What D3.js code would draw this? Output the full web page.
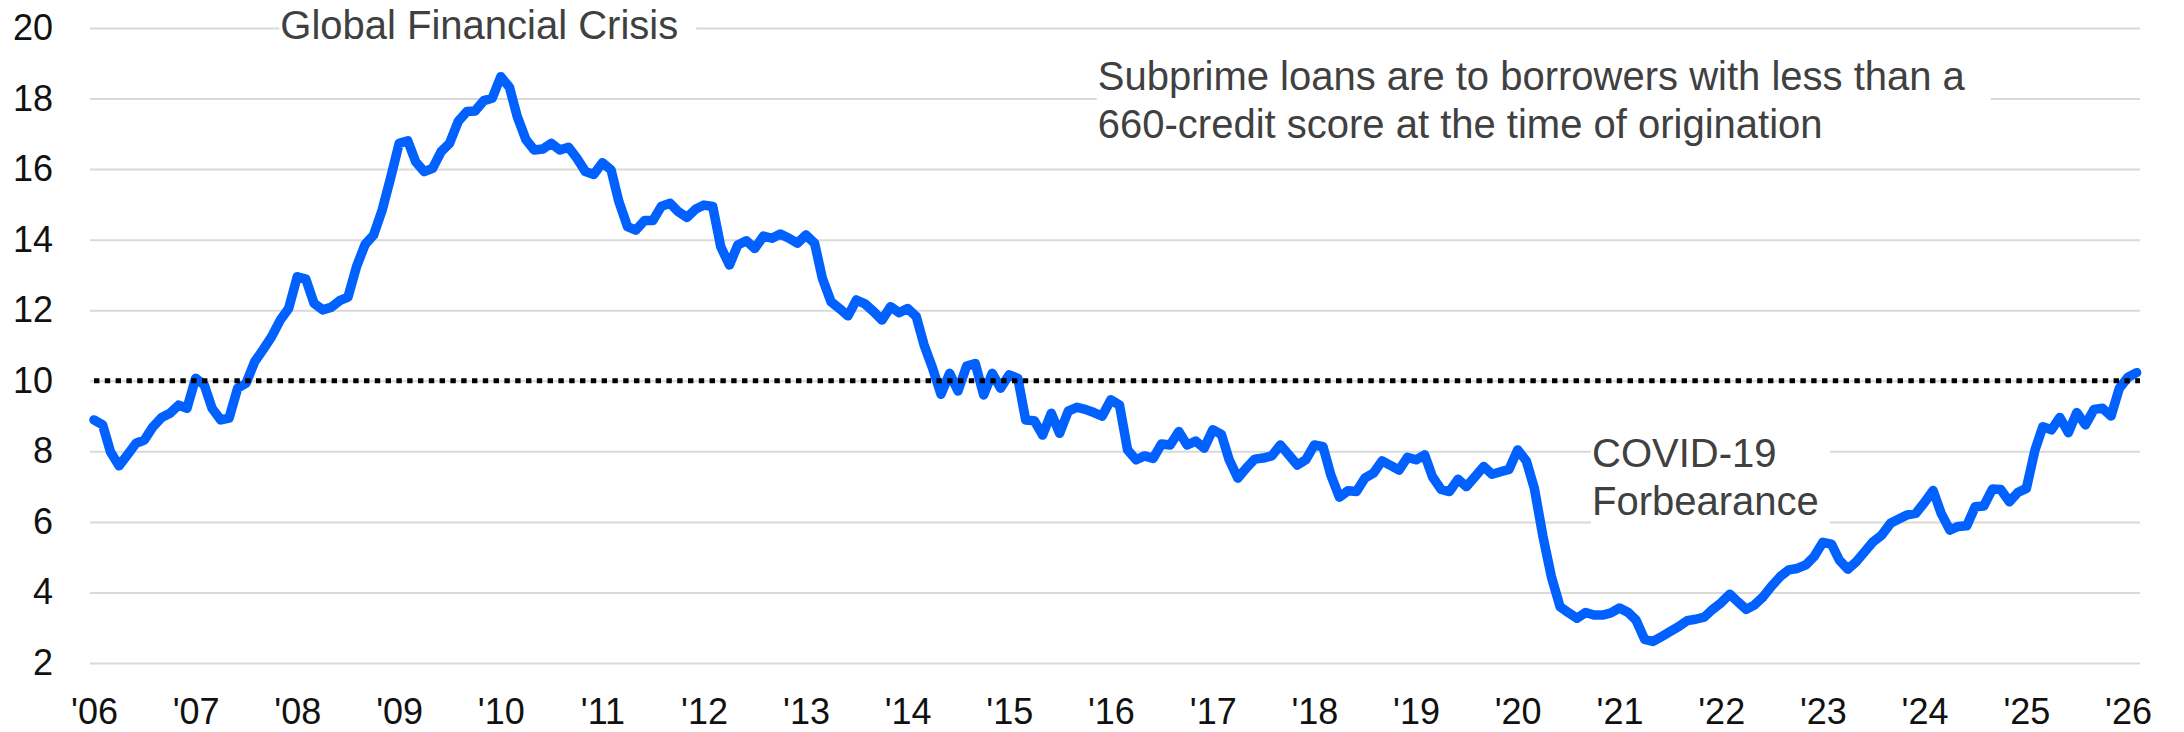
<!DOCTYPE html>
<html lang='en'>
<head>
<meta charset='utf-8'>
<title>Subprime delinquency</title>
<script src='https://cdn.jsdelivr.net/npm/d3@7/dist/d3.min.js'></script>
<style>
	body { margin: 0; background: #fff; }
	text { font-family: 'Liberation Sans', Arial, sans-serif; }
</style>
</head>
<body>
<svg id='svg' width='2184' height='732'></svg>
<script>
// monthly values, Jan 2006 .. Feb 2026
var values = [
	8.89, 8.75, 7.99, 7.59, 7.90, 8.23, 8.32, 8.70, 8.96, 9.08, 9.31, 9.22,          // 2006
	10.07, 9.88, 9.22, 8.89, 8.94, 9.79, 9.93, 10.54, 10.89, 11.25, 11.72, 12.05,    // 2007
	12.95, 12.88, 12.20, 12.01, 12.08, 12.27, 12.37, 13.24, 13.87, 14.13, 14.84, 15.74, // 2008
	16.73, 16.80, 16.21, 15.93, 16.02, 16.50, 16.73, 17.35, 17.63, 17.65, 17.94, 18.01, // 2009
	18.62, 18.32, 17.49, 16.84, 16.54, 16.57, 16.73, 16.54, 16.62, 16.31, 15.93, 15.85, // 2010
	16.18, 15.98, 15.08, 14.37, 14.27, 14.54, 14.54, 14.95, 15.03, 14.79, 14.63, 14.86, // 2011
	14.98, 14.94, 13.80, 13.28, 13.85, 13.97, 13.75, 14.10, 14.04, 14.16, 14.04, 13.90, // 2012
	14.13, 13.90, 12.90, 12.24, 12.05, 11.84, 12.29, 12.18, 11.96, 11.72, 12.10, 11.93, // 2013
	12.05, 11.82, 11.02, 10.35, 9.62, 10.21, 9.71, 10.42, 10.49, 9.60, 10.21, 9.79,  // 2014
	10.17, 10.07, 8.89, 8.87, 8.46, 9.08, 8.51, 9.14, 9.25, 9.19, 9.10, 9.00,        // 2015
	9.46, 9.31, 8.04, 7.76, 7.87, 7.80, 8.21, 8.18, 8.56, 8.18, 8.29, 8.09,          // 2016
	8.61, 8.48, 7.76, 7.24, 7.52, 7.78, 7.81, 7.87, 8.18, 7.90, 7.61, 7.76,          // 2017
	8.18, 8.13, 7.33, 6.70, 6.88, 6.86, 7.24, 7.38, 7.73, 7.60, 7.47, 7.83,          // 2018
	7.76, 7.90, 7.28, 6.92, 6.86, 7.21, 7.00, 7.28, 7.57, 7.35, 7.42, 7.49,          // 2019
	8.04, 7.73, 6.95, 5.58, 4.45, 3.60, 3.43, 3.27, 3.43, 3.36, 3.36, 3.42,          // 2020
	3.56, 3.43, 3.22, 2.67, 2.61, 2.75, 2.89, 3.03, 3.20, 3.24, 3.30, 3.52,          // 2021
	3.71, 3.95, 3.74, 3.52, 3.65, 3.88, 4.18, 4.45, 4.64, 4.68, 4.78, 5.02,          // 2022
	5.42, 5.37, 4.92, 4.66, 4.87, 5.16, 5.44, 5.63, 5.96, 6.08, 6.20, 6.24,          // 2023
	6.55, 6.89, 6.24, 5.77, 5.87, 5.89, 6.43, 6.45, 6.93, 6.92, 6.57, 6.83,          // 2024
	6.95, 8.04, 8.70, 8.61, 8.96, 8.53, 9.10, 8.75, 9.19, 9.22, 9.00, 9.79,          // 2025
	10.10, 10.23                                                                      // 2026
];
var yearLabels = ["'06","'07","'08","'09","'10","'11","'12","'13","'14","'15","'16",
	"'17","'18","'19","'20","'21","'22","'23","'24","'25","'26"];
var yTicks = [2, 4, 6, 8, 10, 12, 14, 16, 18, 20];
var threshold = 10;
var notes = [
	{ lines: ['Global Financial Crisis'], date: new Date(2007, 10, 1), value: 19.69, pad: 18 },
	{ lines: ['Subprime loans are to borrowers with less than a', '660-credit score at the time of origination'],
	  date: new Date(2015, 10, 15), value: 18.24, pad: 25 },
	{ lines: ['COVID-19', 'Forbearance'], date: new Date(2020, 8, 24), value: 7.57, pad: 11 }
];

var start = new Date(2006, 0, 1);
var months = values.map((d, i) => d3.timeMonth.offset(start, i));
var years = yearLabels.map((d, i) => new Date(2006 + i, 0, 1));

var gridLeft = 90, gridRight = 2140;
var svg = d3.select('#svg');

var x = d3.scaleTime().domain([years[0], years[years.length - 1]]).range([94, 2128]);
var y = d3.scaleLinear().domain([2, 20]).range([663, 28]);

// gridlines
var grid = svg.append('g').attr('transform', 'translate(' + gridLeft + ',0)')
	.call(d3.axisRight(y).tickValues(yTicks).tickSize(gridRight - gridLeft).tickFormat(''));
grid.select('.domain').remove();
grid.selectAll('line').attr('stroke', '#d9d9d9').attr('stroke-width', 2);

// y labels
var yAxis = svg.append('g').attr('transform', 'translate(53,0)')
	.call(d3.axisLeft(y).tickValues(yTicks).tickSize(0).tickPadding(0));
yAxis.select('.domain').remove();
yAxis.selectAll('text').attr('font-size', 36).attr('fill', '#111').style('font-family', "'Liberation Sans', Arial, sans-serif");

// x labels
var xAxis = svg.append('g').attr('transform', 'translate(0,698)')
	.call(d3.axisBottom(x).tickValues(years).tickSize(0).tickPadding(0).tickFormat((d, i) => yearLabels[i]));
xAxis.select('.domain').remove();
xAxis.selectAll('text').attr('font-size', 36).attr('fill', '#111').style('font-family', "'Liberation Sans', Arial, sans-serif");

// annotations with white boxes over the gridlines
notes.forEach(function(n) {
	var g = svg.append('g');
	var box = g.append('rect').attr('fill', '#fff');
	var t = g.append('text').attr('x', x(n.date)).attr('y', y(n.value))
		.attr('font-size', 40).attr('fill', '#404040');
	t.selectAll('tspan').data(n.lines).enter().append('tspan')
		.attr('x', x(n.date)).attr('dy', (d, i) => i == 0 ? 0 : 48).text(d => d);
	var bb = t.node().getBBox();
	box.attr('x', bb.x - 1).attr('y', bb.y - 6).attr('width', bb.width + n.pad + 1).attr('height', bb.height + 12);
});

// series
var line = d3.line().x((d, i) => x(months[i])).y(d => y(d));
svg.append('path').datum(values)
	.attr('d', line)
	.attr('fill', 'none')
	.attr('stroke', '#0061ff')
	.attr('stroke-width', 9.5)
	.attr('stroke-linejoin', 'round')
	.attr('stroke-linecap', 'round');

// 10% reference line
svg.append('line')
	.attr('x1', x(start)).attr('x2', gridRight)
	.attr('y1', y(threshold)).attr('y2', y(threshold))
	.attr('stroke', '#000').attr('stroke-width', 5).attr('stroke-dasharray', '5.4,5.4');
</script>
</body>
</html>
